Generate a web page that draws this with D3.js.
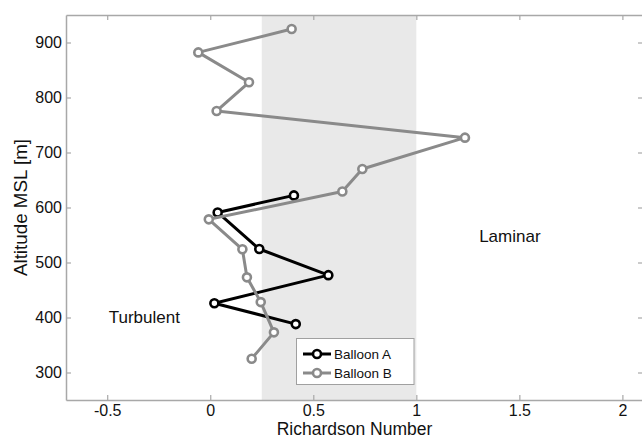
<!DOCTYPE html>
<html>
<head>
<meta charset="utf-8">
<script src="https://cdn.jsdelivr.net/npm/d3@7"></script>
<style>
  html, body { margin: 0; padding: 0; background: #fff; }
  svg { display: block; font-family: "Liberation Sans", Arial, Helvetica, sans-serif; }
</style>
</head>
<body>
<svg id="chart" width="642" height="439"></svg>
<script>
// Richardson number profiles from two balloon soundings
const balloonA_ri  = [0.406, 0.036, 0.238, 0.573, 0.020, 0.415];
const balloonA_alt = [622, 591, 524.5, 477, 426, 388];

const balloonB_ri  = [0.395, -0.058, 0.188, 0.031, 1.236, 0.738, 0.641, -0.007, 0.156, 0.178, 0.245, 0.309, 0.201];
const balloonB_alt = [924.5, 882, 827.6, 775.5, 727, 670, 629, 578.5, 524, 473, 428, 373, 325];

const xTicks = [-0.5, 0, 0.5, 1, 1.5, 2];
const yTicks = [300, 400, 500, 600, 700, 800, 900];
const criticalBand = [0.25, 1];
const seriesNames = ["Balloon A", "Balloon B"];
const seriesColors = ["#000000", "#8a8a8a"];
const regionLabels = [
  { text: "Turbulent", ri: -0.32, alt: 390.5 },
  { text: "Laminar",   ri: 1.454, alt: 538 }
];

const svg = d3.select("#chart");
const plotLeft = 66, plotRight = 643, plotTop = 15, plotBottom = 400;

const x = d3.scaleLinear().domain([-0.7, 2.1]).range([plotLeft, plotRight]);
const y = d3.scaleLinear().domain([250, 950]).range([plotBottom, plotTop]);

// shaded band between Ri = 0.25 and Ri = 1
svg.append("rect")
  .attr("x", x(criticalBand[0]))
  .attr("y", plotTop)
  .attr("width", x(criticalBand[1]) - x(criticalBand[0]))
  .attr("height", plotBottom - plotTop)
  .attr("fill", "#e9e9e9");

// axes with inward ticks on all four sides
const axisColor = "#a8a8a8";
const plain = d => String(d);
function styleAxis(g) {
  g.select(".domain").attr("stroke", axisColor).attr("stroke-width", 1.5);
  g.selectAll(".tick line").attr("stroke", axisColor).attr("stroke-width", 1.2);
  g.selectAll(".tick text").attr("fill", "#111").attr("font-size", "16px")
    .attr("font-family", "Liberation Sans, Arial, sans-serif");
}

svg.append("g").attr("transform", `translate(0,${plotBottom})`)
  .call(d3.axisBottom(x).tickValues(xTicks).tickFormat(plain).tickSizeInner(-5).tickSizeOuter(0).tickPadding(5))
  .call(styleAxis);
svg.append("g").attr("transform", `translate(0,${plotTop})`)
  .call(d3.axisTop(x).tickValues(xTicks).tickFormat("").tickSizeInner(-5).tickSizeOuter(0))
  .call(styleAxis);
svg.append("g").attr("transform", `translate(${plotLeft},0)`)
  .call(d3.axisLeft(y).tickValues(yTicks).tickFormat(plain).tickSizeInner(-5).tickSizeOuter(0).tickPadding(4))
  .call(styleAxis);
svg.append("g").attr("transform", `translate(${plotRight},0)`)
  .call(d3.axisRight(y).tickValues(yTicks).tickFormat("").tickSizeInner(-5).tickSizeOuter(0))
  .call(styleAxis);

// axis titles
svg.append("text")
  .attr("x", 354.5).attr("y", 435.3)
  .attr("text-anchor", "middle").attr("font-size", "17.5px").attr("fill", "#111")
  .text("Richardson Number");
svg.append("text")
  .attr("transform", `translate(27,${(plotTop + plotBottom) / 2}) rotate(-90)`)
  .attr("text-anchor", "middle").attr("font-size", "18.8px").attr("fill", "#111")
  .text("Altitude MSL [m]");

// regime labels
regionLabels.forEach(r => {
  svg.append("text")
    .attr("x", x(r.ri)).attr("y", y(r.alt))
    .attr("text-anchor", "middle").attr("font-size", "17px").attr("fill", "#111")
    .text(r.text);
});

// profiles
const series = [
  { ri: balloonA_ri, alt: balloonA_alt },
  { ri: balloonB_ri, alt: balloonB_alt }
];
const line = d3.line().x(d => x(d[0])).y(d => y(d[1]));

series.forEach((s, i) => {
  const pts = s.ri.map((v, k) => [v, s.alt[k]]);
  const g = svg.append("g");
  g.append("path").datum(pts)
    .attr("d", line)
    .attr("fill", "none")
    .attr("stroke", seriesColors[i])
    .attr("stroke-width", 3)
    .attr("stroke-linejoin", "round");
  g.selectAll("circle").data(pts).join("circle")
    .attr("cx", d => x(d[0])).attr("cy", d => y(d[1]))
    .attr("r", 4)
    .attr("fill", "#fff")
    .attr("stroke", seriesColors[i])
    .attr("stroke-width", 2.6);
});

// legend
const lg = svg.append("g");
lg.append("rect")
  .attr("x", 296.5).attr("y", 338.5).attr("width", 117.5).attr("height", 46)
  .attr("fill", "#fff").attr("stroke", "#a0a0a0").attr("stroke-width", 1);
seriesNames.forEach((name, i) => {
  const cy = 354 + i * 19;
  lg.append("line")
    .attr("x1", 303).attr("x2", 331).attr("y1", cy).attr("y2", cy)
    .attr("stroke", seriesColors[i]).attr("stroke-width", 3);
  lg.append("circle")
    .attr("cx", 317).attr("cy", cy).attr("r", 4)
    .attr("fill", "#fff").attr("stroke", seriesColors[i]).attr("stroke-width", 2.6);
  lg.append("text")
    .attr("x", 334).attr("y", cy + 4.5)
    .attr("font-size", "13.5px").attr("fill", "#111")
    .text(name);
});
</script>
</body>
</html>
